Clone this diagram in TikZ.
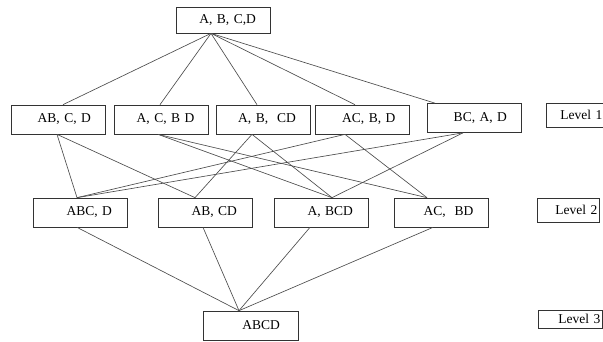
\documentclass[tikz,border=0pt]{standalone}
\usepackage{fontspec}
\setmainfont{Liberation Serif}
\definecolor{edge}{rgb}{0.3,0.3,0.3}

\begin{document}
\begin{tikzpicture}[x=1pt, y=-1pt, font=\fontsize{13.5}{15}\selectfont,
    part/.style={draw=black!80, line width=0.7pt, minimum height=29pt,
        text width=66pt, inner xsep=14pt, inner ysep=0pt, align=right},
    lvl/.style={draw=black!80, line width=0.7pt, anchor=west, align=right,
        inner xsep=2pt, inner ysep=2pt, minimum height=24pt},
    link/.style={draw=edge, line width=0.65pt}]
            \useasboundingbox (0,0) rectangle (603,341);
            \clip (0,0) rectangle (603,341);

            % partitions
            \node[part, minimum height=26pt] (a-b-c-d) at (223,20) {A, B, C,D};

            \node[part] (ab-c-d) at (58,119.5) {AB, C, D};
            \node[part] (a-c-bd) at (161.5,119.5) {A, C, B D};
            \node[part] (a-b-cd) at (263,119.5) {A, B,~ CD};
            \node[part] (ac-b-d) at (362.5,119.5) {AC, B, D};
            \node[part] (bc-a-d) at (474,118) {BC, A, D};

            \node[part, inner xsep=15pt, text width=64pt] (abc-d) at (80,212.5) {ABC, D};
            \node[part, inner xsep=15pt, text width=64pt] (ab-cd) at (205,212.5) {AB, CD};
            \node[part, inner xsep=15pt, text width=64pt] (a-bcd) at (321,212.5) {A, BCD};
            \node[part, inner xsep=15pt, text width=64pt] (ac-bd) at (441.5,212.5) {AC,~ BD};

            \node[part, inner xsep=18pt, text width=59pt] (abcd) at (250.5,325.5) {ABCD};

            % levels
            \node[lvl, text width=54pt] (lev1) at (546,115) {Level 1};
            \node[lvl, text width=58pt] (lev2) at (537,210) {Level 2};
            \node[lvl, text width=60pt, minimum height=18pt, inner ysep=1pt] (lev3) at (538,319) {Level 3};

            % edges
            \draw[link] ([xshift=-12pt]a-b-c-d.south) -- ([xshift=5pt]ab-c-d.north);
            \draw[link] ([xshift=-12pt]a-b-c-d.south) -- ([xshift=-1.5pt]a-c-bd.north);
            \draw[link] ([xshift=-12pt]a-b-c-d.south) -- ([xshift=-6pt]a-b-cd.north);
            \draw[link] ([xshift=-12pt]a-b-c-d.south) -- ([xshift=-7.5pt]ac-b-d.north);
            \draw[link] ([xshift=-12pt]a-b-c-d.south) -- ([xshift=-39pt]bc-a-d.north);

            \draw[link] ([xshift=-1pt]ab-c-d.south) -- ([xshift=-3pt]abc-d.north);
            \draw[link] ([xshift=-1pt]ab-c-d.south) -- ([xshift=-10pt]ab-cd.north);
            \draw[link] ([xshift=-3.5pt]a-c-bd.south) -- ([xshift=11pt]a-bcd.north);
            \draw[link] ([xshift=-3.5pt]a-c-bd.south) -- ([xshift=-14.5pt]ac-bd.north);
            \draw[link] ([xshift=-11pt]a-b-cd.south) -- ([xshift=-10pt]ab-cd.north);
            \draw[link] ([xshift=-11pt]a-b-cd.south) -- ([xshift=11pt]a-bcd.north);
            \draw[link] ([xshift=-17.5pt]ac-b-d.south) -- ([xshift=-3pt]abc-d.north);
            \draw[link] ([xshift=-17.5pt]ac-b-d.south) -- ([xshift=-14.5pt]ac-bd.north);
            \draw[link] ([xshift=-11pt]bc-a-d.south) -- ([xshift=-3pt]abc-d.north);
            \draw[link] ([xshift=-11pt]bc-a-d.south) -- ([xshift=11pt]a-bcd.north);

            \draw[link] ([xshift=-3pt]abc-d.south) -- ([xshift=-11.5pt]abcd.north);
            \draw[link] ([xshift=-2pt]ab-cd.south) -- ([xshift=-11.5pt]abcd.north);
            \draw[link] ([xshift=-11pt]a-bcd.south) -- ([xshift=-11.5pt]abcd.north);
            \draw[link] ([xshift=-8.5pt]ac-bd.south) -- ([xshift=-11.5pt]abcd.north);
        \end{tikzpicture}
\end{document}
